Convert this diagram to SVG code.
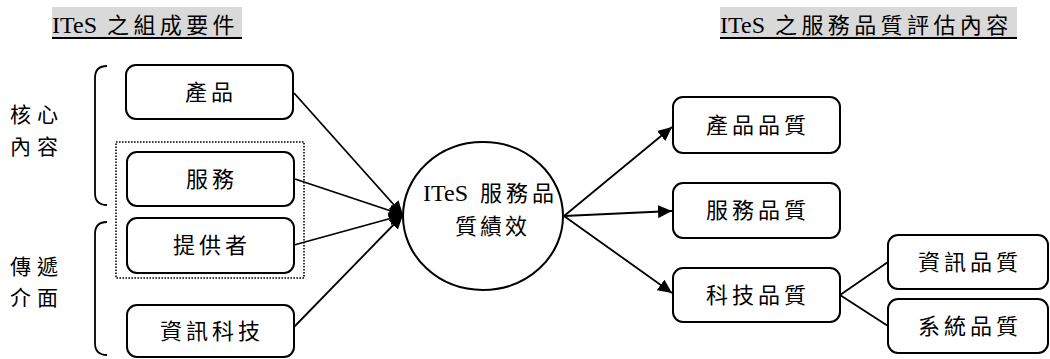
<svg xmlns="http://www.w3.org/2000/svg" width="1050" height="359" viewBox="0 0 1050 359">
<style>
text{font-family:"Liberation Serif","Noto Sans CJK TC",serif;fill:#000;}
.box{fill:#fff;stroke:#000;stroke-width:2;}
.lbl{font-size:22px;letter-spacing:4px;text-anchor:middle;dominant-baseline:central;}
.side{font-size:21px;letter-spacing:6px;dominant-baseline:central;}
.cn{font-size:22px;}
.tbg{fill:#d9d9d9;}
.conn{stroke:#000;stroke-width:1.8;fill:none;}
.brk{stroke:#000;stroke-width:1.8;fill:none;}
</style>
<defs>
<marker id="ah" markerUnits="userSpaceOnUse" markerWidth="14" markerHeight="13" refX="14" refY="6.5" orient="auto">
<path d="M0,0 L14,6.5 L0,13 z" fill="#000"/>
</marker>
</defs>
<g id="title-left">
<rect class="tbg" x="52" y="7" width="190" height="31"/>
<rect x="52" y="37" width="190" height="2" fill="#000"/>
<text x="52" y="33" font-size="24">ITeS<tspan class="cn" x="107" letter-spacing="4.4">之組成要件</tspan></text>
</g>
<g id="title-right">
<rect class="tbg" x="720" y="7" width="297" height="31"/>
<rect x="720" y="37" width="297" height="2" fill="#000"/>
<text x="720" y="33" font-size="24">ITeS<tspan class="cn" x="775" letter-spacing="4.4">之服務品質評估內容</tspan></text>
</g>
<g id="brackets">
<path class="brk" d="M107,66 Q95,66 95,78 L95,193 Q95,205 107,205"/>
<path class="brk" d="M107,222 Q95,222 95,234 L95,343 Q95,355 107,355"/>
<text class="side" x="10" y="115">核心</text>
<text class="side" x="10" y="147">內容</text>
<text class="side" x="10" y="267">傳遞</text>
<text class="side" x="10" y="298">介面</text>
</g>
<g id="group-dotted">
<rect x="116" y="142" width="188" height="136" fill="none" stroke="#000" stroke-width="1.6" stroke-dasharray="1.6 1.4"/>
</g>
<g id="connectors">
<line class="conn" x1="294" y1="93" x2="403" y2="215" marker-end="url(#ah)"/>
<line class="conn" x1="295" y1="179" x2="403" y2="215" marker-end="url(#ah)"/>
<line class="conn" x1="294" y1="245" x2="403" y2="215" marker-end="url(#ah)"/>
<line class="conn" x1="294" y1="327" x2="403" y2="215" marker-end="url(#ah)"/>
<line class="conn" x1="564" y1="216" x2="672" y2="127" marker-end="url(#ah)"/>
<line class="conn" x1="564" y1="216" x2="672" y2="211" marker-end="url(#ah)"/>
<line class="conn" x1="564" y1="216" x2="672" y2="293" marker-end="url(#ah)"/>
<line class="conn" x1="840" y1="295" x2="888" y2="262"/>
<line class="conn" x1="840" y1="295" x2="888" y2="326"/>
</g>
<g id="node-product">
<rect class="box" x="126" y="65" width="167" height="54" rx="10"/>
<text class="lbl" x="211" y="92">產品</text>
</g>
<g id="node-service">
<rect class="box" x="127" y="152" width="167" height="54" rx="10"/>
<text class="lbl" x="212" y="179">服務</text>
</g>
<g id="node-provider">
<rect class="box" x="127" y="218" width="167" height="55" rx="10"/>
<text class="lbl" x="212" y="245">提供者</text>
</g>
<g id="node-it">
<rect class="box" x="127" y="305" width="167" height="52" rx="10"/>
<text class="lbl" x="212" y="331">資訊科技</text>
</g>
<g id="node-center">
<ellipse cx="483" cy="216" rx="80" ry="74" fill="#fff" stroke="#000" stroke-width="2"/>
<text x="423" y="201" font-size="24">ITeS<tspan class="cn" x="480" letter-spacing="4">服務品</tspan></text>
<text class="cn" x="455" y="226" letter-spacing="3" dominant-baseline="central">質績效</text>
</g>
<g id="node-pq">
<rect class="box" x="673" y="97" width="167" height="56" rx="10"/>
<text class="lbl" x="758" y="125">產品品質</text>
</g>
<g id="node-sq">
<rect class="box" x="673" y="183" width="167" height="55" rx="10"/>
<text class="lbl" x="758" y="210">服務品質</text>
</g>
<g id="node-tq">
<rect class="box" x="673" y="268" width="167" height="54" rx="10"/>
<text class="lbl" x="758" y="295">科技品質</text>
</g>
<g id="node-iq">
<rect class="box" x="888" y="235" width="160" height="54" rx="10"/>
<text class="lbl" x="970" y="262">資訊品質</text>
</g>
<g id="node-sysq">
<rect class="box" x="888" y="299" width="160" height="54" rx="10"/>
<text class="lbl" x="970" y="326">系統品質</text>
</g>
</svg>
